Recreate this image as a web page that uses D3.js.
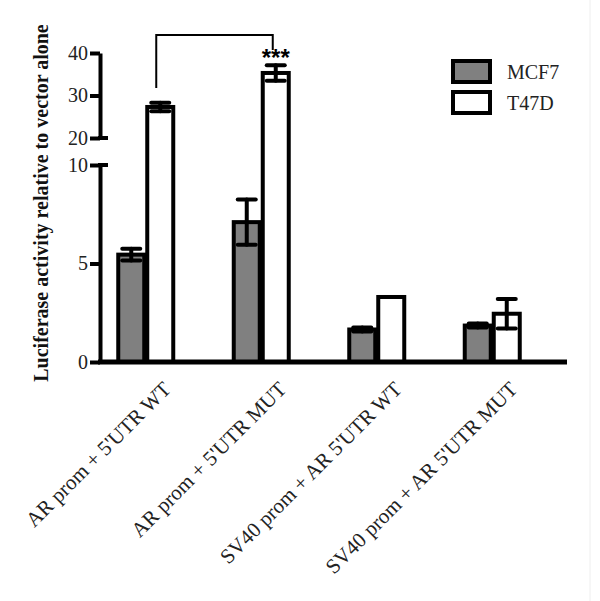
<!doctype html>
<html>
  <head>
    <style>
      body { margin: 0; background: #fff; }
      text { font-family: "Liberation Serif", "Times New Roman", serif; }
    </style>
    <script src="https://cdnjs.cloudflare.com/ajax/libs/d3/7.8.5/d3.min.js"></script>
  </head>
  <body>
    <script>
      // data
      var categories = ["AR prom + 5'UTR WT", "AR prom + 5'UTR MUT", "SV40 prom + AR 5'UTR WT", "SV40 prom + AR 5'UTR MUT"];
      var series = ["MCF7", "T47D"];
      var mcf7 = [5.45, 7.1, 1.65, 1.85];
      var mcf7Err = [0.3, 1.15, 0.1, 0.1];
      var t47d = [27.3, 35.3, 3.3, 2.45];
      var t47dErr = [1.0, 1.8, 0, 0.75];
      var lowTicks = [0, 5, 10];
      var highTicks = [20, 30, 40];

      var W = 600, H = 601;
      var svg = d3.select("body").append("svg").attr("width", W).attr("height", H);

      var x = d3.scaleBand().domain(categories).range([88, 550]);
      var xs = d3.scaleBand().domain(series).range([-29, 29]);
      // broken axis: 0-10 bottom, 20-40 top
      var y = d3.scaleLinear().domain([0, 10, 20, 40]).range([362, 165, 138, 53]);
      var yLow = d3.scaleLinear().domain([0, 10]).range([362, 165]);
      var yHigh = d3.scaleLinear().domain([20, 40]).range([138, 53]);

      var rows = [];
      categories.forEach(function(c, i) {
        rows.push({cat: c, s: "MCF7", v: mcf7[i], e: mcf7Err[i]});
        rows.push({cat: c, s: "T47D", v: t47d[i], e: t47dErr[i]});
      });
      var fill = {MCF7: "#808080", T47D: "#fff"};
      var cx = function(d) { return x(d.cat) + x.bandwidth() / 2 + xs(d.s) + xs.bandwidth() / 2; };

      // faint frame edge on the right
      svg.append("line").attr("x1", 590).attr("x2", 590).attr("y1", 0).attr("y2", H)
        .attr("stroke", "#eee").attr("stroke-width", 1);

      // bars
      svg.selectAll("rect.bar").data(rows).enter().append("rect")
        .attr("class", "bar")
        .attr("x", function(d) { return cx(d) - 13; })
        .attr("width", 26)
        .attr("y", function(d) { return y(d.v); })
        .attr("height", function(d) { return y(0) - y(d.v); })
        .attr("fill", function(d) { return fill[d.s]; })
        .attr("stroke", "#000")
        .attr("stroke-width", 4);

      // error bars
      var eb = svg.selectAll("g.err").data(rows.filter(function(d) { return d.e > 0; })).enter().append("g")
        .attr("stroke", "#000").attr("stroke-width", 4).attr("stroke-linecap", "round");
      eb.append("line")
        .attr("x1", cx).attr("x2", cx)
        .attr("y1", function(d) { return y(d.v - d.e); })
        .attr("y2", function(d) { return y(d.v + d.e); });
      [-1, 1].forEach(function(sg) {
        eb.append("line")
          .attr("x1", function(d) { return cx(d) - 9; })
          .attr("x2", function(d) { return cx(d) + 9; })
          .attr("y1", function(d) { return y(d.v + sg * d.e); })
          .attr("y2", function(d) { return y(d.v + sg * d.e); });
      });

      // y axes (two segments)
      var axLow = svg.append("g").attr("transform", "translate(100,0)")
        .call(d3.axisLeft(yLow).tickValues(lowTicks).tickSize(10).tickSizeOuter(0).tickPadding(2));
      var axHigh = svg.append("g").attr("transform", "translate(100,0)")
        .call(d3.axisLeft(yHigh).tickValues(highTicks).tickSize(10).tickSizeOuter(0).tickPadding(2));
      [axLow, axHigh].forEach(function(a) {
        a.select(".domain").attr("stroke-width", 4);
        a.selectAll(".tick line").attr("stroke-width", 4);
        a.selectAll(".tick text").attr("font-size", 20).attr("font-family", "Liberation Serif, serif").attr("fill", "#222");
      });
      // break caps extend to the right
      svg.append("line").attr("x1", 98).attr("x2", 108).attr("y1", yLow(10)).attr("y2", yLow(10)).attr("stroke", "#000").attr("stroke-width", 4);
      svg.append("line").attr("x1", 98).attr("x2", 108).attr("y1", yHigh(20)).attr("y2", yHigh(20)).attr("stroke", "#000").attr("stroke-width", 4);

      // x axis line
      svg.append("line").attr("x1", 98).attr("x2", 567).attr("y1", y(0)).attr("y2", y(0))
        .attr("stroke", "#000").attr("stroke-width", 5);

      // x labels
      svg.selectAll("text.xl").data(categories).enter().append("text")
        .attr("class", "xl")
        .attr("transform", function(d) { return "translate(" + (x(d) + x.bandwidth() / 2 + 16) + ",380) rotate(-45)"; })
        .attr("text-anchor", "end")
        .attr("dy", "0.7em")
        .attr("font-size", 21)
        .attr("fill", "#222")
        .text(function(d) { return d; });

      // y title
      svg.append("text")
        .attr("transform", "translate(48,203) rotate(-90)")
        .attr("text-anchor", "middle")
        .attr("font-size", 20)
        .attr("font-weight", "bold")
        .attr("fill", "#111")
        .text("Luciferase activity relative to vector alone");

      // significance bracket
      var b1 = cx(rows[1]) - 4, b2 = cx(rows[3]) - 3;
      svg.append("path")
        .attr("d", "M" + b1 + "," + 88 + "V35H" + b2 + "V50")
        .attr("fill", "none").attr("stroke", "#000").attr("stroke-width", 2);
      svg.append("text")
        .attr("x", cx(rows[3])).attr("y", 66)
        .attr("text-anchor", "middle")
        .attr("font-size", 24)
        .attr("font-weight", "bold")
        .style("font-family", "Liberation Sans, Arial, sans-serif")
        .text("***");

      // legend
      var lg = svg.selectAll("g.lg").data(series).enter().append("g")
        .attr("transform", function(d, i) { return "translate(453," + (61 + i * 31) + ")"; });
      lg.append("rect").attr("width", 37).attr("height", 21)
        .attr("fill", function(d) { return fill[d]; })
        .attr("stroke", "#000").attr("stroke-width", 4);
      lg.append("text").attr("x", 54).attr("y", 18)
        .attr("font-size", 20).attr("fill", "#222")
        .text(function(d) { return d; });
    </script>
  </body>
</html>
